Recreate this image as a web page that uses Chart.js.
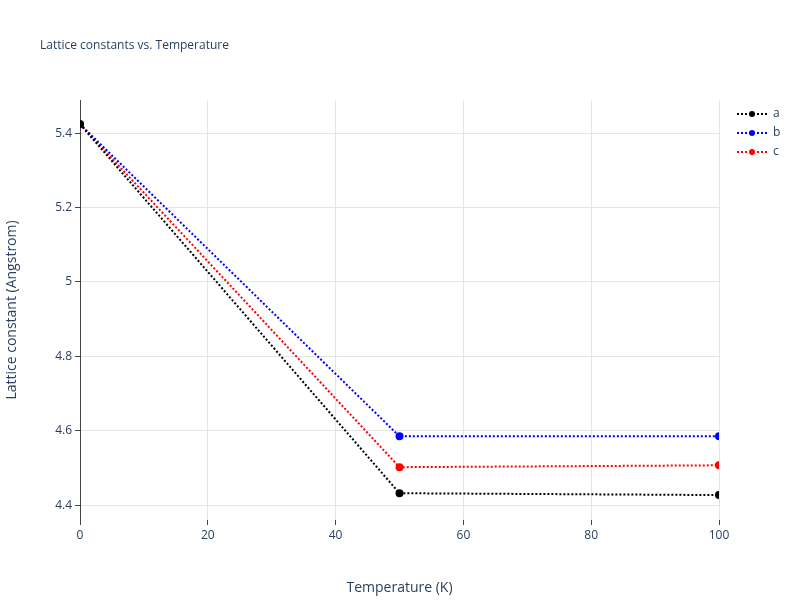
<!DOCTYPE html>
<html><head><script src="https://cdn.jsdelivr.net/npm/chart.js"></script>
<style>body{margin:0}</style></head>
<body><canvas id="c" width="800" height="600"></canvas>
<script>
const temps=[0,50,100];
const aVals=[5.424,4.432,4.427];
const bVals=[5.424,4.585,4.585];
const cVals=[5.424,4.502,4.507];
const names=['a','b','c'];
const colors=['#000000','#0000ff','#ff0000'];
const font='"Open Sans", sans-serif';
const series=[aVals,bVals,cVals];
const extras={id:'extras',afterDraw(ch){const x=ch.ctx;x.save();
x.font='12px '+font;x.fillStyle='#2a3f5f';x.textBaseline='middle';x.fillText('Lattice constants vs. Temperature',40,46);
names.forEach((n,i)=>{const y=114+i*19;x.strokeStyle=colors[i];x.lineWidth=2;x.setLineDash([2,2]);
x.beginPath();x.moveTo(737,y);x.lineTo(767,y);x.stroke();x.setLineDash([]);x.fillStyle=colors[i];
x.beginPath();x.arc(752,y,3,0,Math.PI*2);x.fill();x.fillStyle='#2a3f5f';x.fillText(n,773,y);});
x.restore();}};
new Chart(document.getElementById('c'),{type:'line',
data:{datasets:series.map((s,i)=>({label:names[i],data:temps.map((t,j)=>({x:t,y:s[j]})),borderColor:colors[i],backgroundColor:colors[i],borderDash:[2,2],borderWidth:2,pointRadius:3,pointHoverRadius:3}))},
options:{responsive:false,animation:false,devicePixelRatio:1,
layout:{padding:{top:100,right:81,left:0,bottom:0}},
plugins:{legend:{display:false},title:{display:false},tooltip:{enabled:false}},
scales:{x:{type:'linear',min:0,max:100,afterFit(s){s.height=80},
ticks:{stepSize:20,color:'#2a3f5f',font:{family:font,size:12}},
grid:{color:'#e5e5e5',drawTicks:true,tickLength:5,tickColor:'#444'},border:{display:false},
title:{display:true,text:'Temperature (K)',color:'#2a3f5f',font:{family:font,size:14},padding:{top:8}}},
y:{min:4.36,max:5.489,afterFit(s){s.width=80},
afterBuildTicks(s){s.ticks=[4.4,4.6,4.8,5,5.2,5.4].map(v=>({value:v}))},
ticks:{color:'#2a3f5f',font:{family:font,size:12},callback:v=>String(+v.toFixed(1))},
grid:{color:'#e5e5e5',tickLength:5,tickColor:'#444'},border:{display:true,color:'#444',width:1},
title:{display:true,text:'Lattice constant (Angstrom)',color:'#2a3f5f',font:{family:font,size:14}}}}},
plugins:[extras]});
</script></body></html>
